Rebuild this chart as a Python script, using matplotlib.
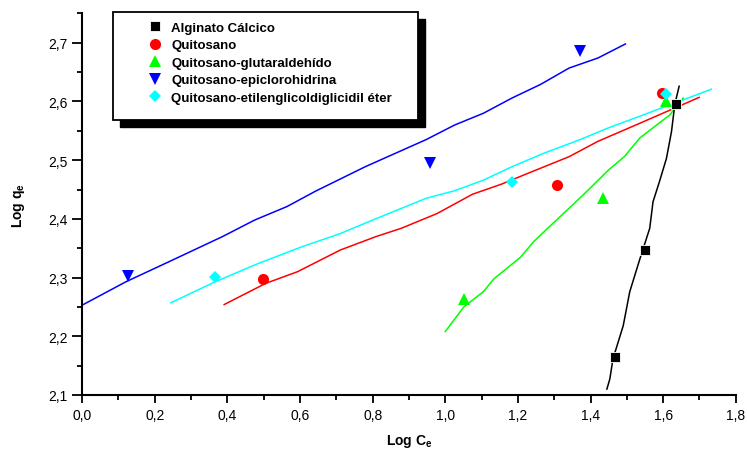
import matplotlib
matplotlib.use('Agg')
import matplotlib.pyplot as plt
from matplotlib.patches import Rectangle
from matplotlib.ticker import MultipleLocator, FuncFormatter

plt.rcParams['font.family'] = ['Liberation Sans', 'DejaVu Sans']
plt.rcParams['mathtext.fontset'] = 'custom'
plt.rcParams['mathtext.rm'] = 'Liberation Sans'
plt.rcParams['mathtext.bf'] = 'Liberation Sans:bold'

# measured points (log Ce, log qe)
alg_x = [1.467, 1.550, 1.635]
alg_y = [2.164, 2.347, 2.595]
qui_x = [0.498, 1.307, 1.596]
qui_y = [2.298, 2.458, 2.615]
glu_x = [1.051, 1.434, 1.608]
glu_y = [2.264, 2.435, 2.601]
epi_x = [0.126, 0.957, 1.371]
epi_y = [2.303, 2.496, 2.686]
egd_x = [0.367, 1.184, 1.609]
egd_y = [2.301, 2.462, 2.612]

# fitted curves
alg_fx = [1.445, 1.453, 1.462, 1.490, 1.508, 1.536, 1.563, 1.572, 1.590, 1.609, 1.623, 1.632, 1.644]
alg_fy = [2.110, 2.127, 2.162, 2.218, 2.276, 2.332, 2.384, 2.429, 2.464, 2.503, 2.549, 2.595, 2.626]
qui_fx = [0.391, 0.505, 0.593, 0.711, 0.810, 0.879, 0.977, 1.075, 1.154, 1.233, 1.341, 1.420, 1.536, 1.699]
qui_fy = [2.254, 2.290, 2.310, 2.347, 2.370, 2.384, 2.409, 2.442, 2.459, 2.479, 2.506, 2.532, 2.563, 2.607]
glu_fx = [1.000, 1.051, 1.105, 1.134, 1.208, 1.243, 1.277, 1.351, 1.380, 1.449, 1.493, 1.536, 1.559, 1.618, 1.655]
glu_fy = [2.208, 2.250, 2.276, 2.298, 2.335, 2.361, 2.381, 2.424, 2.441, 2.483, 2.506, 2.538, 2.549, 2.577, 2.606]
epi_fx = [0.0, 0.121, 0.239, 0.387, 0.475, 0.564, 0.642, 0.780, 0.947, 1.026, 1.105, 1.184, 1.262, 1.341, 1.420, 1.496]
epi_fy = [2.253, 2.293, 2.327, 2.370, 2.398, 2.421, 2.447, 2.489, 2.535, 2.560, 2.580, 2.606, 2.629, 2.657, 2.674, 2.698]
egd_fx = [0.244, 0.367, 0.485, 0.603, 0.711, 0.800, 0.947, 1.026, 1.105, 1.184, 1.272, 1.371, 1.449, 1.536, 1.630, 1.733]
egd_fy = [2.257, 2.293, 2.324, 2.352, 2.375, 2.398, 2.435, 2.448, 2.466, 2.489, 2.512, 2.535, 2.555, 2.575, 2.597, 2.621]

labels = ['Alginato Cálcico', 'Quitosano', 'Quitosano-glutaraldehído',
          'Quitosano-epiclorohidrina', 'Quitosano-etilenglicoldiglicidil éter']

fig = plt.figure(figsize=(7.47, 4.52), dpi=100)
ax = fig.add_axes([0.110, 0.124, 0.875, 0.844])

lw = 1.1
ax.plot(epi_fx, epi_fy, color='#0000FF', lw=lw)
ax.plot(egd_fx, egd_fy, color='#00FFFF', lw=lw)
ax.plot(qui_fx, qui_fy, color='#FF0000', lw=lw)
ax.plot(glu_fx, glu_fy, color='#00FF00', lw=lw)
ax.plot(alg_fx, alg_fy, color='black', lw=lw)

h1, = ax.plot(alg_x, alg_y, 's', color='black', mec='white', mew=0.6, ms=7, label=labels[0])
h2, = ax.plot(qui_x, qui_y, 'o', color='#FF0000', ms=8, mew=0, label=labels[1])
h3, = ax.plot(glu_x, glu_y, '^', color='#00FF00', ms=8.5, mew=0, label=labels[2])
h4, = ax.plot(epi_x, epi_y, 'v', color='#0000FF', ms=8.5, mew=0, label=labels[3])
h5, = ax.plot(egd_x, egd_y, 'D', color='#00FFFF', ms=6.5, mew=0, label=labels[4])

ax.set_xlim(0, 1.8)
ax.set_ylim(2.1, 2.75)
for s in ['top', 'right']:
    ax.spines[s].set_visible(False)
for s in ['left', 'bottom']:
    ax.spines[s].set_linewidth(1.5)
ax.xaxis.set_major_locator(MultipleLocator(0.2))
ax.xaxis.set_minor_locator(MultipleLocator(0.1))
ax.yaxis.set_major_locator(MultipleLocator(0.1))
ax.yaxis.set_minor_locator(MultipleLocator(0.05))
comma = FuncFormatter(lambda v, p: ('%.1f' % v).replace('.', ','))
ax.xaxis.set_major_formatter(comma)
ax.yaxis.set_major_formatter(comma)
ax.tick_params(which='major', direction='out', length=6, width=1.3, labelsize=10, colors='black')
ax.tick_params(which='minor', direction='out', length=3.5, width=1.3)
ax.tick_params(axis='y', which='major', length=7)

ax.set_xlabel(r'Log C$_\mathbf{e}$', fontsize=10, fontweight='bold', labelpad=7)
ax.set_ylabel(r'Log q$_\mathbf{e}$', fontsize=10, fontweight='bold', labelpad=15)

# legend box with drop shadow
fig.patches.append(Rectangle((120 / 747, 1 - 128 / 452), 305 / 747, 108 / 452,
                             transform=fig.transFigure, facecolor='black', edgecolor='black', zorder=5))
fig.patches.append(Rectangle((113 / 747, 1 - 121 / 452), 305 / 747, 108 / 452,
                             transform=fig.transFigure, facecolor='white', edgecolor='black',
                             lw=1.3, zorder=6))
leg = fig.legend(handles=[h1, h2, h3, h4, h5], loc='upper left',
                 bbox_to_anchor=(140 / 747, 1 - 16 / 452), frameon=False,
                 prop={'weight': 'bold', 'size': 9.5}, handlelength=1.2,
                 handletextpad=0.65, labelspacing=0.4, borderpad=0)
leg.set_zorder(7)

fig.savefig('out.png', dpi=100)
